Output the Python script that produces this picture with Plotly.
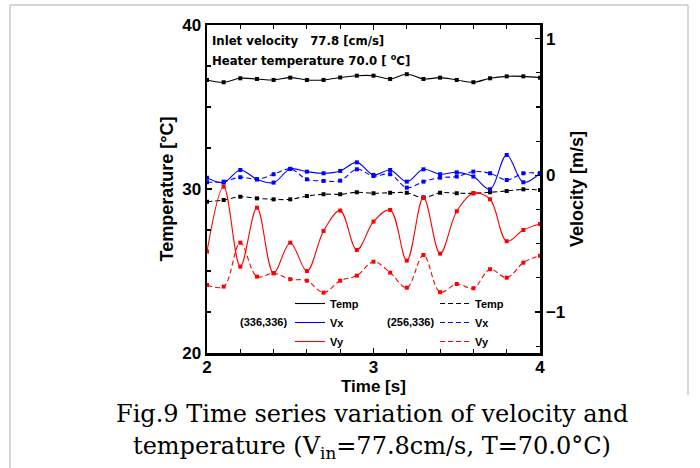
import plotly.graph_objects as go

# ---------------- data ----------------
time = [2.0, 2.1, 2.2, 2.3, 2.4, 2.5, 2.6, 2.7, 2.8, 2.9, 3.0,
        3.1, 3.2, 3.3, 3.4, 3.5, 3.6, 3.7, 3.8, 3.9, 4.0]

# point (336,336)
temp_336 = [36.65, 36.51, 36.75, 36.71, 36.65, 36.79, 36.65, 36.65, 36.80, 36.91, 36.91,
            36.71, 37.00, 36.71, 36.79, 36.65, 36.51, 36.75, 36.87, 36.87, 36.79]
vx_336 = [-0.017, -0.053, 0.039, -0.029, -0.053, 0.047, 0.027, 0.015, 0.032, 0.095, 0.003,
          0.039, -0.046, 0.044, 0.008, 0.022, -0.009, -0.102, 0.149, -0.051, 0.015]
vy_336 = [-0.558, -0.083, -0.668, -0.237, -0.716, -0.493, -0.700, -0.407, -0.258, -0.546, -0.339,
          -0.253, -0.624, -0.160, -0.573, -0.263, -0.131, -0.175, -0.482, -0.400, -0.356]

# point (256,336)
temp_256 = [29.23, 29.33, 29.53, 29.43, 29.37, 29.37, 29.57, 29.68, 29.68, 29.80, 29.74,
            29.77, 29.77, 29.47, 29.77, 29.74, 29.74, 29.80, 29.88, 29.98, 29.94]
vx_256 = [-0.051, -0.046, -0.014, -0.029, 0.008, 0.047, -0.029, -0.041, -0.039, 0.044, -0.005,
          0.008, -0.090, -0.046, -0.017, -0.009, 0.027, 0.015, -0.034, 0.015, 0.015]
vy_256 = [-0.802, -0.814, -0.493, -0.741, -0.716, -0.760, -0.771, -0.858, -0.771, -0.734, -0.632,
          -0.712, -0.822, -0.583, -0.855, -0.795, -0.826, -0.687, -0.749, -0.639, -0.588]

series = [
    ("Temp", temp_336, "y", "black", "solid", "legend"),
    ("Temp", temp_256, "y", "black", "dash", "legend2"),
    ("Vx", vx_336, "y2", "#0000ff", "solid", "legend"),
    ("Vx", vx_256, "y2", "#0000ff", "dash", "legend2"),
    ("Vy", vy_336, "y2", "#ff0000", "solid", "legend"),
    ("Vy", vy_256, "y2", "#ff0000", "dash", "legend2"),
]

# ---------------- layout geometry ----------------
W, H = 700, 468
L, R, T, B = 207, 540, 25, 353
PW, PH = R - L, B - T


def px(xp):
    return (xp - L) / PW


def py(yp):
    return (B - yp) / PH


SANS = "Liberation Sans, Arial, sans-serif"
NARROW = "Liberation Sans Narrow, DejaVu Sans Condensed, Liberation Sans, sans-serif"
SERIF = "DejaVu Serif, Liberation Serif, serif"

fig = go.Figure()

for name, vals, yax, color, dash, leg in series:
    dsh = "solid" if dash == "solid" else "5px,3px"
    fig.add_trace(go.Scatter(
        x=time, y=vals, yaxis=yax, mode="lines", name=name, legend=leg,
        line=dict(color=color, width=1.1, shape="spline", smoothing=1, dash=dsh),
        showlegend=True, hoverinfo="skip"))
    fig.add_trace(go.Scatter(
        x=time, y=vals, yaxis=yax, mode="markers", showlegend=False, hoverinfo="skip",
        marker=dict(symbol="square", size=4, color=color, line=dict(width=0))))

axis_common = dict(
    showgrid=False, zeroline=False, showline=True, linecolor="black", linewidth=2.5,
    ticks="inside", ticklen=5, tickwidth=1.5, tickcolor="black",
    tickfont=dict(family=SANS, size=17, color="black", weight="bold"),
)

fig.update_layout(
    width=W, height=H,
    margin=dict(l=L, r=W - R, t=T, b=H - B, pad=0),
    paper_bgcolor="white", plot_bgcolor="white",
    xaxis=dict(range=[2, 4], tickvals=[2, 3, 4], mirror="ticks", ticklabelstandoff=-3,
               minor=dict(dtick=0.2, ticks="inside", ticklen=4, tickwidth=1.2, tickcolor="black"),
               **axis_common),
    yaxis=dict(range=[20, 40], tickvals=[20, 30, 40],
               minor=dict(dtick=2.5, ticks="inside", ticklen=4, tickwidth=1.2, tickcolor="black"),
               title=dict(text="Temperature [°C]", font=dict(family=SANS, size=18, color="black", weight="bold"),
                          standoff=4),
               **axis_common),
    yaxis2=dict(range=[-1.3, 1.1], tickvals=[-1, 0, 1], overlaying="y", side="right",
                minor=dict(dtick=0.25, tick0=0, ticks="inside", ticklen=4, tickwidth=1.2, tickcolor="black"),
                title=dict(text="Velocity [m/s]", font=dict(family=SANS, size=18, color="black", weight="bold"),
                           standoff=6),
                **axis_common),
    legend=dict(x=px(290), y=py(289), xanchor="left", yanchor="top",
                bgcolor="rgba(0,0,0,0)", borderwidth=0, itemwidth=30, tracegroupgap=0,
                font=dict(family=SANS, size=11, color="black", weight="bold")),
    legend2=dict(x=px(435), y=py(289), xanchor="left", yanchor="top",
                 bgcolor="rgba(0,0,0,0)", borderwidth=0, itemwidth=30, tracegroupgap=0,
                 font=dict(family=SANS, size=11, color="black", weight="bold")),
    showlegend=True,
    hovermode=False,
)

# x-axis title placed as an annotation so it sits tight under the tick labels
fig.add_annotation(x=0.5, y=py(386), xref="paper", yref="paper", xanchor="center", yanchor="middle",
                   text="Time [s]", showarrow=False,
                   font=dict(family=SANS, size=17, color="black", weight="bold"))

ann_font = dict(family=NARROW, size=13, color="black", weight="bold")
fig.add_annotation(x=px(210), y=py(40), xref="paper", yref="paper", xanchor="left", yanchor="middle",
                   text="Inlet velocity\u00a0\u00a0\u00a077.8 [cm/s]", showarrow=False, font=ann_font)
fig.add_annotation(x=px(210), y=py(60), xref="paper", yref="paper", xanchor="left", yanchor="middle",
                   text="Heater temperature 70.0 [ <sup>o</sup>C]", showarrow=False, font=ann_font)

lab_font = dict(family=SANS, size=11, color="black", weight="bold")
fig.add_annotation(x=px(263), y=py(322), xref="paper", yref="paper", xanchor="center", yanchor="middle",
                   text="(336,336)", showarrow=False, font=lab_font)
fig.add_annotation(x=px(410), y=py(322), xref="paper", yref="paper", xanchor="center", yanchor="middle",
                   text="(256,336)", showarrow=False, font=lab_font)

cap_font = dict(family=SERIF, size=24, color="black")
fig.add_annotation(x=px(372), y=py(414), xref="paper", yref="paper", xanchor="center", yanchor="middle",
                   text="Fig.9 Time series variation of velocity and", showarrow=False, font=cap_font)
fig.add_annotation(x=px(372), y=py(447), xref="paper", yref="paper", xanchor="center", yanchor="middle",
                   text="temperature (V<sub>in</sub>=77.8cm/s, T=70.0°C)", showarrow=False, font=cap_font)

# light page frame around the figure
frame = dict(color="#c8c8c8", width=1.5)
fig.add_shape(type="line", xref="paper", yref="paper", x0=px(10), x1=px(10), y0=py(5), y1=py(468), line=frame)
fig.add_shape(type="line", xref="paper", yref="paper", x0=px(10), x1=px(688), y0=py(5), y1=py(5), line=frame)
fig.add_shape(type="line", xref="paper", yref="paper", x0=px(688), x1=px(688), y0=py(5), y1=py(395), line=frame)

fig.write_html("out.html", config={"displayModeBar": False, "staticPlot": True},
               post_script="document.body.style.margin='0';document.body.style.padding='0';")
